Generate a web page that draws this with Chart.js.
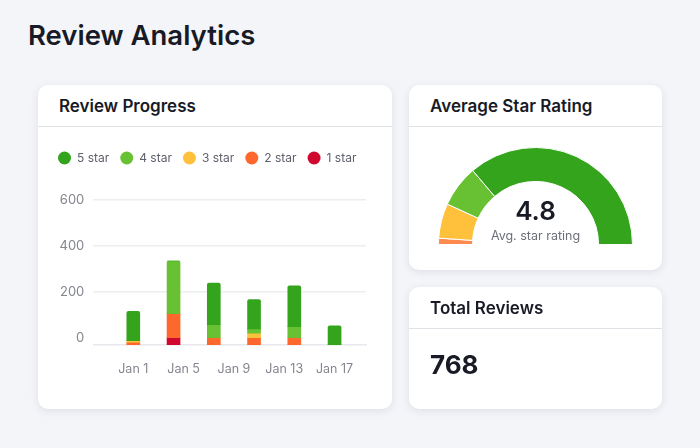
<!DOCTYPE html>
<html>
<head>
<meta charset="utf-8">
<script src="https://cdn.jsdelivr.net/npm/chart.js@4"></script>
<style>
  html, body { margin: 0; padding: 0; }
  body { width: 700px; height: 448px; background: #f4f5f9; font-family: Inter, sans-serif; position: relative; overflow: hidden; }
  h1 { position: absolute; left: 28px; top: 17px; margin: 0; font-size: 27.5px; line-height: 36px; font-weight: 600; color: #181a25; }
  .card { position: absolute; background: #fff; border-radius: 10px; box-shadow: 0 2px 8px rgba(30, 35, 60, 0.1); }
  .card h2 { margin: 0; height: 41px; line-height: 42px; padding-left: 21px; font-size: 17px; font-weight: 600; color: #181a25; border-bottom: 1px solid #dfe1e6; }
  canvas { position: absolute; }
  #cardProgress { left: 38px; top: 85px; width: 354px; height: 324px; }
  #cardRating { left: 409px; top: 85px; width: 253px; height: 185px; }
  #cardTotal { left: 409px; top: 287px; width: 253px; height: 122px; }
  #chartProgress { left: 9px; top: 56px; width: 345px; height: 244px; }
  #chartRating { left: 29px; top: 62px; width: 195px; height: 98px; }
  .gaugeValue { position: absolute; left: 0; width: 253px; top: 108px; text-align: center; font-size: 26px; line-height: 36px; font-weight: 600; color: #181a25; }
  .gaugeLabel { position: absolute; left: 0; width: 253px; top: 142px; text-align: center; font-size: 12.5px; line-height: 18px; color: #6c6e79; }
  .total { position: absolute; left: 21px; top: 61px; font-size: 26px; line-height: 34px; font-weight: 700; color: #181a25; }
</style>
</head>
<body>
<h1>Review Analytics</h1>
<div class="card" id="cardProgress">
  <h2>Review Progress</h2>
  <canvas id="chartProgress" width="345" height="244"></canvas>
</div>
<div class="card" id="cardRating">
  <h2>Average Star Rating</h2>
  <canvas id="chartRating" width="195" height="98"></canvas>
  <div class="gaugeValue">4.8</div>
  <div class="gaugeLabel">Avg. star rating</div>
</div>
<div class="card" id="cardTotal">
  <h2>Total Reviews</h2>
  <div class="total">768</div>
</div>
<script>
// Dados
const categorias = ['Jan 1', 'Jan 5', 'Jan 9', 'Jan 13', 'Jan 17'];
const ticksX = [1, 5, 9, 13, 17];
const ticksY = [0, 200, 400, 600];
const baseY = -30;

// Barras: dias no eixo x, valores por estrela
const dias = [1, 4.2, 7.4, 10.6, 13.8, 17];
const star5 = [127, 0, 181, 127, 177, 83];
const star4 = [0, 229, 56, 19, 48, 0];
const star3 = [7, 0, 0, 19, 0, 0];
const star2 = [12, 104, 32, 32, 32, 0];
const star1 = [0, 32, 0, 0, 0, 0];

// Medidor
const gaugeLabels = ['2 star', '3 star', '4 star', '5 star'];
const gaugeValues = [16, 89, 107, 556];

const cores = { s5: '#34a41c', s4: '#68c132', s3: '#ffc03c', s2: '#ff682c', s1: '#d00830' };
const corTexto = '#84868f';

// Segmentos empilhados a partir da base do eixo
const baixo = [star1, star2, star3, star4, star5];
function faixa(serie) {
    return dias.map((d, i) => {
        let inicio = baseY;
        for (let k = 0; k < serie; k++) inicio += baixo[k][i];
        return { x: d, y: [inicio, inicio + baixo[serie][i]] };
    });
}
function conjunto(label, cor, serie) {
    return {
        label: label,
        data: faixa(serie),
        backgroundColor: cor,
        borderWidth: 0,
        barThickness: 13,
        grouped: false,
        borderSkipped: false,
        borderRadius: function(ctx) {
            let acima = 0;
            for (let k = serie + 1; k < baixo.length; k++) acima += baixo[k][ctx.dataIndex];
            const r = acima === 0 ? 2 : 0;
            return { topLeft: r, topRight: r, bottomLeft: 0, bottomRight: 0 };
        }
    };
}

// Legenda em uma linha e com espaço até o gráfico
const legendaAlta = {
    id: 'legendaAlta',
    beforeInit: function(chart) {
        const fitOriginal = chart.legend.fit;
        chart.legend.fit = function() {
            this.maxWidth = chart.width;
            fitOriginal.bind(chart.legend)();
            this.height = 59;
        };
    },
    afterLayout: function(chart) {
        chart.legend.right = chart.width;
    }
};

function criarGraficoProgresso() {
    new Chart(document.getElementById('chartProgress'), {
        type: 'bar',
        data: {
            datasets: [
                conjunto('5 star', cores.s5, 4),
                conjunto('4 star', cores.s4, 3),
                conjunto('3 star', cores.s3, 2),
                conjunto('2 star', cores.s2, 1),
                conjunto('1 star', cores.s1, 0)
            ]
        },
        plugins: [legendaAlta],
        options: {
            responsive: false,
            animation: false,
            layout: { padding: { left: 0, right: 26, top: 0, bottom: 0 } },
            plugins: {
                tooltip: { enabled: false },
                legend: {
                    display: true,
                    position: 'top',
                    align: 'start',
                    labels: {
                        usePointStyle: true,
                        pointStyle: 'circle',
                        pointStyleWidth: 13,
                        boxHeight: 9.2,
                        padding: 11,
                        color: '#5f616c',
                        font: { family: 'Inter', size: 12 }
                    }
                }
            },
            scales: {
                x: {
                    type: 'linear',
                    offset: false,
                    min: -2.18,
                    max: 19.5,
                    afterBuildTicks: function(eixo) {
                        eixo.ticks = ticksX.map(v => ({ value: v }));
                    },
                    afterFit: function(eixo) {
                        eixo.height = 40;
                    },
                    grid: { display: false, offset: false },
                    border: { display: true, color: '#e6e8ec', width: 1.5 },
                    ticks: {
                        autoSkip: false,
                        maxRotation: 0,
                        padding: 9,
                        color: corTexto,
                        font: { family: 'Inter', size: 12.5 },
                        callback: function(valor) {
                            return categorias[ticksX.indexOf(valor)];
                        }
                    }
                },
                y: {
                    min: baseY,
                    max: 600,
                    afterBuildTicks: function(eixo) {
                        eixo.ticks = ticksY.map(v => ({ value: v }));
                    },
                    afterFit: function(eixo) {
                        eixo.width = 46.3;
                    },
                    grid: {
                        drawTicks: false,
                        lineWidth: 1.5,
                        color: function(ctx) {
                            return ctx.tick && ctx.tick.value === 0 ? 'rgba(0,0,0,0)' : '#eceef2';
                        }
                    },
                    border: { display: false },
                    ticks: { padding: 9, color: corTexto, font: { family: 'Inter', size: 13 } }
                }
            }
        }
    });
}

function criarGraficoRating() {
    new Chart(document.getElementById('chartRating'), {
        type: 'doughnut',
        data: {
            labels: gaugeLabels,
            datasets: [{
                data: gaugeValues,
                backgroundColor: ['#ff8a50', cores.s3, cores.s4, cores.s5],
                borderColor: '#ffffff',
                borderWidth: 1
            }]
        },
        options: {
            responsive: false,
            animation: false,
            rotation: -90,
            circumference: 180,
            cutout: '65%',
            plugins: { legend: { display: false }, tooltip: { enabled: false } }
        }
    });
}

criarGraficoProgresso();
criarGraficoRating();
</script>
</body>
</html>
